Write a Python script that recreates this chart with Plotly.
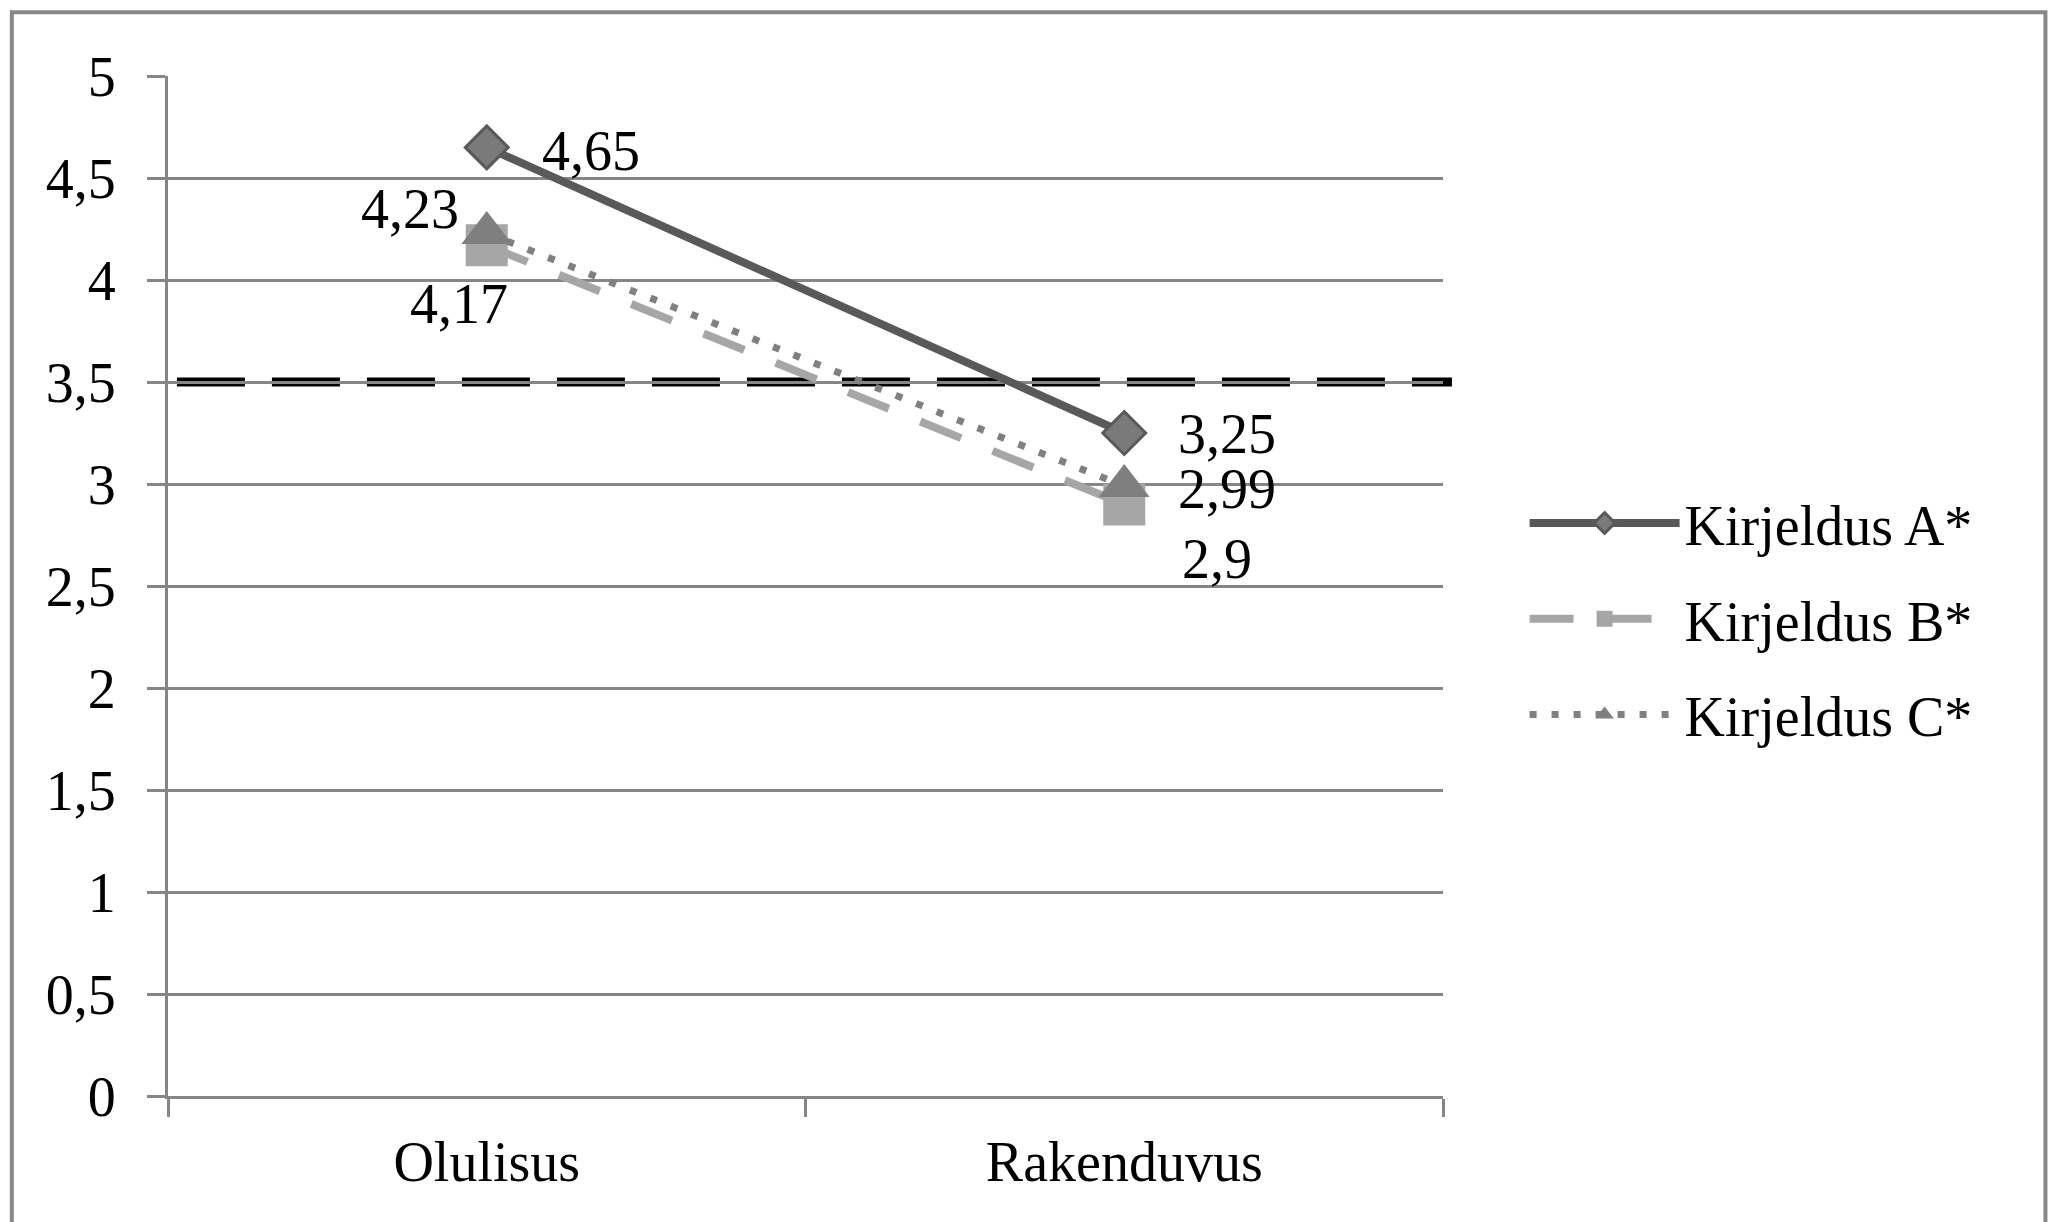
import plotly.graph_objects as go

# Survey results: mean rating per description
categories = ["Olulisus", "Rakenduvus"]
series_names = ["Kirjeldus A*", "Kirjeldus B*", "Kirjeldus C*"]
values_a = [4.65, 3.25]
values_b = [4.17, 2.90]
values_c = [4.23, 2.99]
threshold = 3.5
y_tick_values = [0, 0.5, 1, 1.5, 2, 2.5, 3, 3.5, 4, 4.5, 5]
y_tick_labels = ["0", "0,5", "1", "1,5", "2", "2,5", "3", "3,5", "4", "4,5", "5"]

FONT = "Liberation Serif"
FS = 56
GRID = "#868686"

# per-series styling (line, marker, label offsets for each category)
styles = [
    dict(line=dict(color="#595959", width=8, dash="solid"),
         marker=dict(symbol="diamond", size=33, color="#7a7a7a",
                     line=dict(color="#595959", width=3)),
         label_offsets=[("left", 53, -4), ("left", 52, -1)]),
    dict(line=dict(color="#a6a6a6", width=8, dash="44px,34px"),
         marker=dict(symbol="square", size=42, color="#a6a6a6"),
         label_offsets=[("center", -28, -59), ("left", 56, -55)]),
    dict(line=dict(color="#808080", width=7, dash="7px,15px"),
         marker=dict(symbol="triangle-up", size=44, color="#7f7f7f"),
         label_offsets=[("right", -26, 24), ("left", 52, -3)]),
]

all_values = [values_a, values_b, values_c]

fig = go.Figure()
for name, vals, st in zip(series_names, all_values, styles):
    fig.add_trace(go.Scatter(
        x=categories, y=vals, name=name, mode="lines+markers",
        line=st["line"], marker=st["marker"], legendgroup=name,
        hoverinfo="skip",
    ))

annotations = []
for vals, st in zip(all_values, styles):
    for cat, v, (anchor, dx, dy) in zip(categories, vals, st["label_offsets"]):
        annotations.append(dict(
            x=cat, y=v, xref="x", yref="y",
            text=f"{v:g}".replace(".", ","),
            showarrow=False, xanchor=anchor, yanchor="middle",
            xshift=dx, yshift=dy,
            font=dict(family=FONT, size=FS, color="black"),
        ))

shapes = [
    # reference level
    dict(type="line", xref="paper", yref="y", x0=0.007, x1=1.007,
         y0=threshold, y1=threshold, layer="between",
         line=dict(color="black", width=9, dash="68px,27px")),
    # outer frame
    dict(type="rect", xref="paper", yref="paper",
         x0=-0.1225, x1=1.4725, y0=-0.14, y1=1.0625,
         line=dict(color="#888888", width=4), layer="below"),
]

fig.update_layout(
    width=2052, height=1222,
    margin=dict(l=168, r=609, t=76, b=126),
    paper_bgcolor="white", plot_bgcolor="white",
    font=dict(family=FONT, size=FS, color="black"),
    showlegend=True,
    legend=dict(x=1.064, xanchor="left", y=0.4676, yanchor="middle",
                font=dict(family=FONT, size=FS, color="black"),
                tracegroupgap=20, itemwidth=150, bgcolor="rgba(0,0,0,0)"),
    annotations=annotations,
    shapes=shapes,
    xaxis=dict(type="category", range=[-0.5, 1.5], tickson="boundaries",
               showgrid=False, showline=True, linecolor=GRID, linewidth=3,
               ticks="outside", ticklen=18, tickwidth=3, tickcolor=GRID,
               ticklabelstandoff=15,
               tickfont=dict(family=FONT, size=FS, color="black"),
               zeroline=False, fixedrange=True),
    yaxis=dict(range=[0, 5], tickvals=y_tick_values, ticktext=y_tick_labels,
               showgrid=True, gridcolor=GRID, gridwidth=3,
               showline=True, linecolor=GRID, linewidth=3,
               ticks="outside", ticklen=18, tickwidth=3, tickcolor=GRID,
               ticklabelstandoff=20,
               tickfont=dict(family=FONT, size=FS, color="black"),
               zeroline=False, fixedrange=True),
)

fig.write_html("out.html")
